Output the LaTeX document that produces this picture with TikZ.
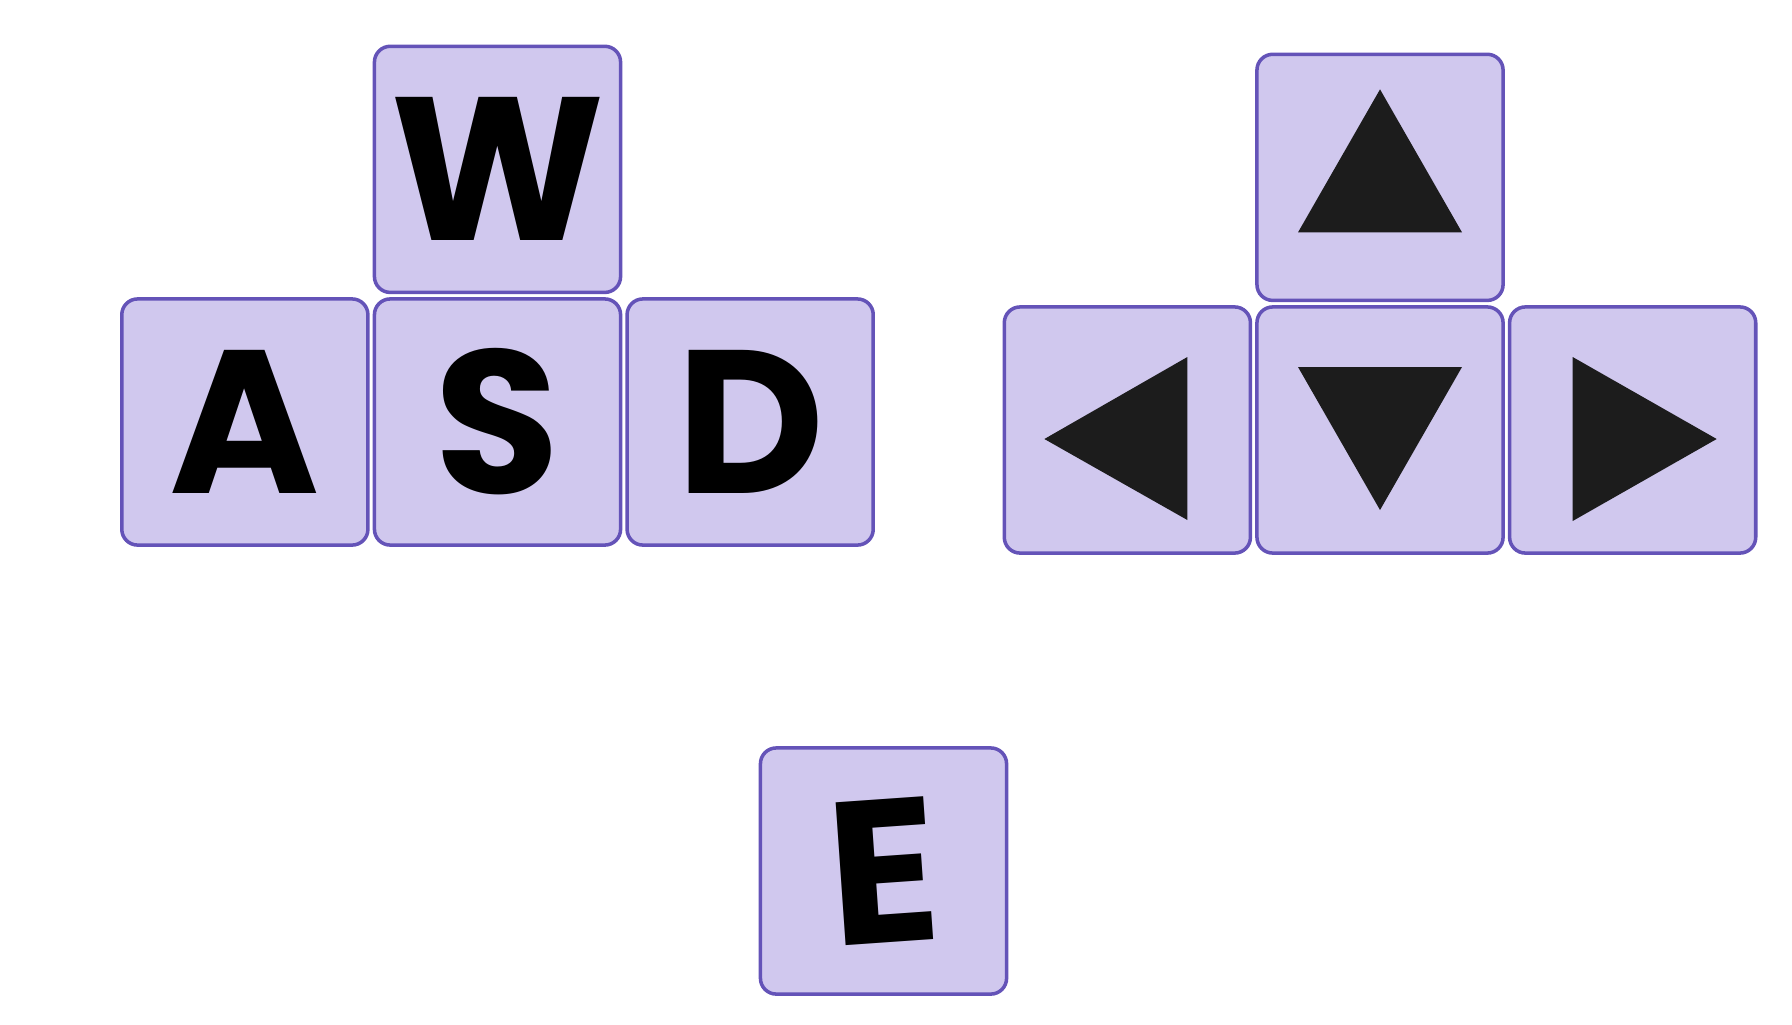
\documentclass[tikz,border=0pt]{standalone}
\usepackage{xcolor}
\usepackage{fontspec}
\usepackage{tikz}
\usetikzlibrary{positioning}

\newfontfamily\keyfont{Poppins}

\definecolor{keyfill}{HTML}{D0C8EE}
\definecolor{keyline}{HTML}{6453B8}
\definecolor{trifill}{HTML}{1C1C1C}

\begin{document}
\begin{tikzpicture}[
  x=0.01cm, y=-0.01cm,
  key/.style={
    draw=keyline, fill=keyfill, rounded corners=4.5pt,
    minimum width=2.46cm, minimum height=2.46cm,
    inner sep=0pt, outer sep=0pt, line width=1pt,
    font=\keyfont\bfseries\fontsize{58}{58}\selectfont
  },
  arrowtri/.style={fill=trifill},
  node distance=0.065cm,
]

%%% Canvas
\useasboundingbox (0,0) rectangle (1792,1024);

%%% WASD cluster
\node[key] (kS) at (497.5,422) {S};
\node[key, left=of kS] (kA) {A};
\node[key, right=of kS] (kD) {D};
\node[key, above=of kS] (kW) {W};

%%% Arrow cluster
\node[key] (kDown) at (1380,430) {};
\node[key, left=of kDown] (kLeft) {};
\node[key, right=of kDown] (kRight) {};
\node[key, above=of kDown] (kUp) {};

\fill[arrowtri] ([shift={(0,-88)}]kUp.center) -- ([shift={(82,55)}]kUp.center)
  -- ([shift={(-82,55)}]kUp.center) -- cycle;
\fill[arrowtri] ([shift={(-82,-63)}]kDown.center) -- ([shift={(82,-63)}]kDown.center)
  -- ([shift={(0,80)}]kDown.center) -- cycle;
\fill[arrowtri] ([shift={(-83,9)}]kLeft.center) -- ([shift={(60,-73)}]kLeft.center)
  -- ([shift={(60,90)}]kLeft.center) -- cycle;
\fill[arrowtri] ([shift={(84,9)}]kRight.center) -- ([shift={(-60,-73)}]kRight.center)
  -- ([shift={(-60,91)}]kRight.center) -- cycle;

%%% E key
\node[key] (kE) at (883.5,871) {\rotatebox{4}{E}};

\end{tikzpicture}
\end{document}
